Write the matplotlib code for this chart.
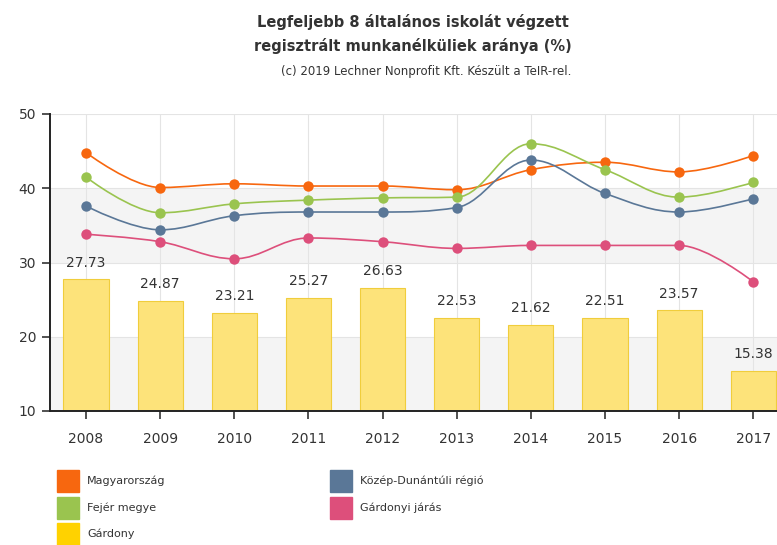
import matplotlib
matplotlib.use("Agg")
import matplotlib.pyplot as plt
import numpy as np
from matplotlib.path import Path
from matplotlib.patches import PathPatch, Rectangle

# ── adatok ───────────────────────────────────────────────────────────────
YEARS = ["2008", "2009", "2010", "2011", "2012", "2013", "2014", "2015", "2016", "2017"]

magyarorszag = [44.8, 40.1, 40.6, 40.3, 40.3, 39.8, 42.5, 43.5, 42.2, 44.4]
fejer_megye  = [41.5, 36.7, 37.9, 38.4, 38.7, 38.8, 46.0, 42.5, 38.8, 40.8]
kozep_dunant = [37.6, 34.4, 36.3, 36.8, 36.8, 37.4, 43.8, 39.3, 36.8, 38.6]
gardonyi_jar = [33.8, 32.8, 30.5, 33.3, 32.8, 31.9, 32.3, 32.3, 32.3, 27.4]
gardony      = [27.73, 24.87, 23.21, 25.27, 26.63, 22.53, 21.62, 22.51, 23.57, 15.38]

LINES = [
    ("Magyarország",          magyarorszag, "#f7670f"),
    ("Fejér megye",           fejer_megye,  "#9ac44f"),
    ("Közép-Dunántúli régió", kozep_dunant, "#5a7797"),
    ("Gárdonyi járás",        gardonyi_jar, "#dd4f7b"),
]
BAR_LABEL = "Gárdony"
BAR_COLOR = "#ffd200"

LEGEND_ORDER = [
    ("Magyarország", "#f7670f"),
    ("Fejér megye", "#9ac44f"),
    ("Gárdony", BAR_COLOR),
    ("Közép-Dunántúli régió", "#5a7797"),
    ("Gárdonyi járás", "#dd4f7b"),
]

TXT = "#333333"


def spline_path(xs, ys, smoothing=1.5):
    """Highcharts-szerű simított görbe bezier kontrollpontokkal."""
    n = len(xs)
    left, right = [], []
    denom = smoothing + 1
    for i in range(n):
        x, y = xs[i], ys[i]
        if i == 0 or i == n - 1:
            left.append((x, y))
            right.append((x, y))
            continue
        px, py = xs[i - 1], ys[i - 1]
        nx, ny = xs[i + 1], ys[i + 1]
        lcx = (smoothing * x + px) / denom
        lcy = (smoothing * y + py) / denom
        rcx = (smoothing * x + nx) / denom
        rcy = (smoothing * y + ny) / denom
        corr = (rcy - lcy) * (rcx - x) / (rcx - lcx) + y - rcy
        lcy += corr
        rcy += corr
        if lcy > max(py, y):
            lcy = max(py, y); rcy = 2 * y - lcy
        elif lcy < min(py, y):
            lcy = min(py, y); rcy = 2 * y - lcy
        if rcy > max(ny, y):
            rcy = max(ny, y); lcy = 2 * y - rcy
        elif rcy < min(ny, y):
            rcy = min(ny, y); lcy = 2 * y - rcy
        left.append((lcx, lcy))
        right.append((rcx, rcy))
    verts = [(xs[0], ys[0])]
    codes = [Path.MOVETO]
    for i in range(1, n):
        verts += [right[i - 1], left[i], (xs[i], ys[i])]
        codes += [Path.CURVE4] * 3
    return Path(verts, codes)


plt.rcParams["font.family"] = ["DejaVu Sans"]

fig = plt.figure(figsize=(7.77, 5.45), dpi=100)
ax = fig.add_axes([50 / 777, 1 - 411 / 545, 1 - 50 / 777, (411 - 114) / 545])

x = np.arange(len(YEARS))

# háttérsávok
ax.axhspan(10, 20, color="#f4f4f4", zorder=0, lw=0)
ax.axhspan(30, 40, color="#f4f4f4", zorder=0, lw=0)
for yv in [20, 30, 40, 50]:
    ax.axhline(yv, color="#e4e4e4", lw=0.8, zorder=0.5)
for xv in x:
    ax.axvline(xv, color="#e4e4e4", lw=0.8, zorder=0.5)

bars = ax.bar(x, gardony, width=0.61, bottom=0, color="#fde37a",
              edgecolor="#f0cd3c", lw=0.8, zorder=2)
for bar, v in zip(bars, gardony):
    ax.text(bar.get_x() + bar.get_width() / 2, v + 1.3, f"{v:.2f}",
            ha="center", va="bottom", fontsize=10, color=TXT, zorder=5)

for label, vals, color in LINES:
    path = spline_path(list(x.astype(float)), vals, smoothing=1.7)
    ax.add_patch(PathPatch(path, facecolor="none", edgecolor=color, lw=1.2, zorder=3))
    ax.plot(x, vals, "o", color=color, ms=7.5, mew=0, zorder=4)

ax.set_xlim(-0.486, 9.32)
ax.set_ylim(10, 50)
ax.set_yticks([10, 20, 30, 40, 50])
ax.set_xticks(x)
ax.set_xticklabels(YEARS)
ax.tick_params(axis="both", labelsize=10, colors=TXT, length=6, width=1.2,
               direction="out")
ax.tick_params(axis="x", pad=9)
ax.tick_params(axis="y", pad=4)
for s in ["top", "right"]:
    ax.spines[s].set_visible(False)
for s in ["left", "bottom"]:
    ax.spines[s].set_color("#222222")
    ax.spines[s].set_linewidth(1.4)
ax.set_facecolor("white")

# cím
fig.text(413 / 777, 1 - 22 / 545, "Legfeljebb 8 általános iskolát végzett",
         ha="center", va="center", fontsize=10.5, fontweight="bold", color=TXT)
fig.text(413 / 777, 1 - 46 / 545, "regisztrált munkanélküliek aránya (%)",
         ha="center", va="center", fontsize=10.5, fontweight="bold", color=TXT)
fig.text(426 / 777, 1 - 72 / 545, "(c) 2019 Lechner Nonprofit Kft. Készült a TeIR-rel.",
         ha="center", va="center", fontsize=8.5, color=TXT)

# jelmagyarázat
col_x = [57, 330]
row_y = [481, 508, 534]
for i, (label, color) in enumerate(LEGEND_ORDER):
    col, row = (0, i) if i < 3 else (1, i - 3)
    px, py = col_x[col], row_y[row]
    fig.patches.append(Rectangle((px / 777, 1 - (py + 11) / 545), 22 / 777, 22 / 545,
                                 transform=fig.transFigure, color=color, figure=fig))
    fig.text((px + 30) / 777, 1 - py / 545, label, ha="left", va="center",
             fontsize=8, color=TXT)

fig.savefig("out.png", dpi=100)
